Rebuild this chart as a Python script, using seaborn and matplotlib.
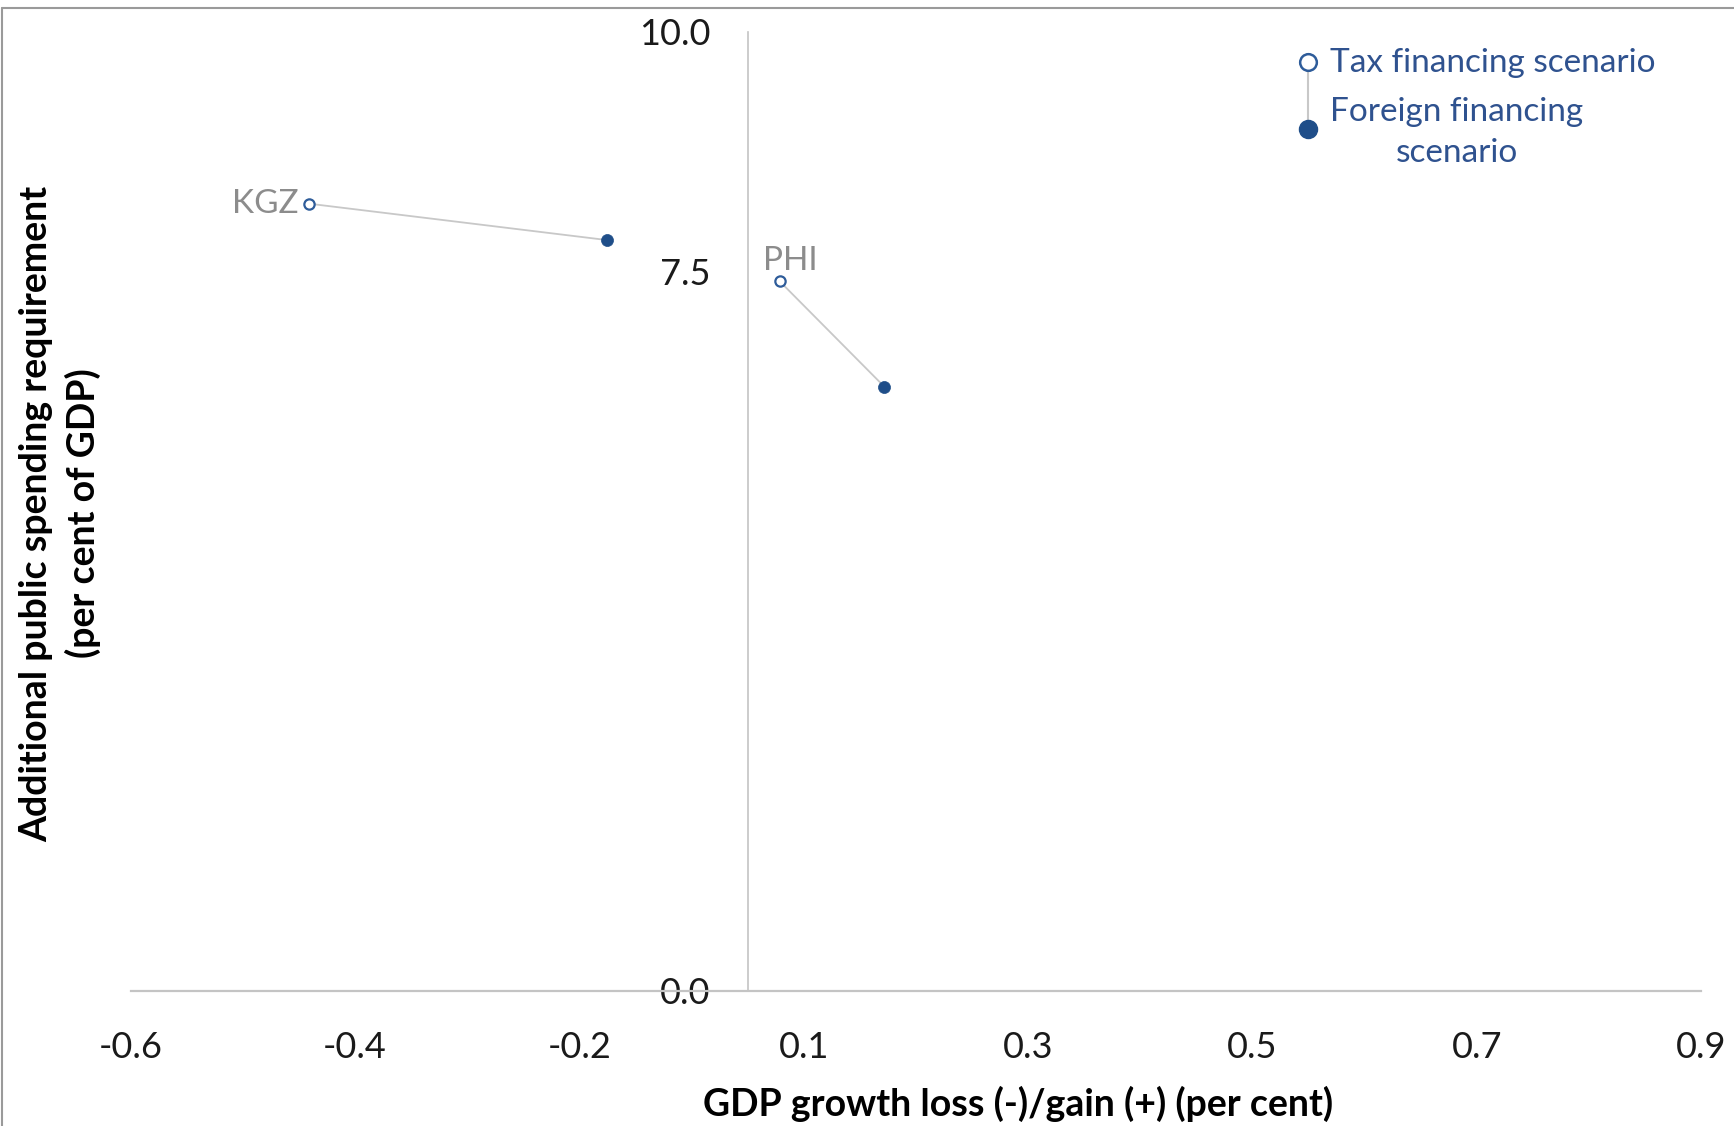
import numpy as np
import pandas as pd
import seaborn as sns
from matplotlib import pyplot as plt
from matplotlib.lines import Line2D

# values
countries = ["KGZ", "PHI"]
tax_growth = [-0.43, 0.02]
tax_spending = [8.21, 7.40]
foreign_growth = [-0.145, 0.12]
foreign_spending = [7.83, 6.30]

x_tick_labels = ["-0.6", "-0.4", "-0.2", "0.1", "0.3", "0.5", "0.7", "0.9"]
y_ticks = [0.0, 7.5, 10.0]
y_tick_labels = ["0.0", "7.5", "10.0"]

BLUE = "#1f4e89"
EDGE = "#2e5c9a"
GREY_LINE = "#c8c8c8"
LABEL_GREY = "#8c8c8c"
TEXT_BLUE = "#2f528f"

# long table: one row per country and scenario
df = pd.DataFrame({
    "country": countries * 2,
    "scenario": ["Tax"] * len(countries) + ["Foreign"] * len(countries),
    "growth": tax_growth + foreign_growth,
    "spending": tax_spending + foreign_spending,
})

sns.set_style("white")
plt.rcParams['font.family'] = ['Lato', 'DejaVu Sans']

fig = plt.figure(figsize=(17.34, 11.26), dpi=100)
ax = fig.add_axes([0.0753, 0.12, 0.9057, 0.8516])

# connecting lines between the two scenarios of each country
sns.lineplot(data=df, x="growth", y="spending", units="country", estimator=None,
             sort=False, color=GREY_LINE, lw=1.3, legend=False, ax=ax, zorder=1)

tax = df[df["scenario"] == "Tax"]
foreign = df[df["scenario"] == "Foreign"]
sns.scatterplot(data=tax, x="growth", y="spending", s=55, marker="o",
                facecolor="white", edgecolor=EDGE, linewidth=1.6, ax=ax, zorder=3)
sns.scatterplot(data=foreign, x="growth", y="spending", s=75, marker="o",
                color=BLUE, edgecolor=BLUE, linewidth=0.5, ax=ax, zorder=3)

# country labels
for c, gx, gy in zip(tax["country"], tax["growth"], tax["spending"]):
    if c == "KGZ":
        ax.annotate(c, (gx, gy), xytext=(-7, 0), textcoords="offset points",
                    ha="right", va="center", fontsize=24, color=LABEL_GREY)
    else:
        ax.annotate(c, (gx, gy), xytext=(-12, 4), textcoords="offset points",
                    ha="left", va="bottom", fontsize=24, color=LABEL_GREY)

ax.set_xlim(-0.6, 0.9)
ax.set_ylim(0, 10)
ax.set_xticks(np.linspace(-0.6, 0.9, len(x_tick_labels)))
ax.set_xticklabels(x_tick_labels)
ax.set_yticks(y_ticks)
ax.set_yticklabels(y_tick_labels)
ax.tick_params(axis="both", length=0, labelsize=26, colors="#1a1a1a")
ax.tick_params(axis="x", pad=29)
ax.tick_params(axis="y", pad=27)
ax.set_xlabel("")
ax.set_ylabel("")

sns.despine(ax=ax, top=True, right=True)
ax.spines["left"].set_position(("data", -0.01))
ax.spines["left"].set_color("#c4c4c4")
ax.spines["left"].set_linewidth(1.2)
ax.spines["bottom"].set_color("#c4c4c4")
ax.spines["bottom"].set_linewidth(1.6)

# axis titles
fig.text(0.587, 0.0195, "GDP growth loss (-)/gain (+) (per cent)", ha="center",
         va="center", fontsize=27, fontweight="bold", color="black")
fig.text(0.0345, 0.544, "Additional public spending requirement\n(per cent of GDP)",
         ha="center", va="center", rotation=90, multialignment="center",
         fontsize=27, fontweight="bold", color="black", linespacing=1.38)

# legend drawn by hand, as in the original
ax.plot([0.7498, 0.7498], [0.9687, 0.899], transform=ax.transAxes,
        color=GREY_LINE, lw=1.5, zorder=2, clip_on=False)
ax.plot([0.7498], [0.9687], transform=ax.transAxes, marker="o", ms=12,
        mfc="white", mec=EDGE, mew=1.8, zorder=3, clip_on=False)
ax.plot([0.7498], [0.899], transform=ax.transAxes, marker="o", ms=13,
        mfc=BLUE, mec=BLUE, zorder=3, clip_on=False)
ax.text(0.7637, 0.968, "Tax financing scenario", transform=ax.transAxes,
        ha="left", va="center", fontsize=24, color=TEXT_BLUE)
ax.text(0.7637, 0.895, "Foreign financing\nscenario", transform=ax.transAxes,
        ha="left", va="center", multialignment="center", fontsize=24,
        color=TEXT_BLUE, linespacing=1.46)

# thin frame around the picture (top and left edges)
fig.add_artist(Line2D([0.0013, 0.0013], [0, 0.993], transform=fig.transFigure,
                      color="#9a9a9a", lw=1.5))
fig.add_artist(Line2D([0.0013, 1], [0.993, 0.993], transform=fig.transFigure,
                      color="#9a9a9a", lw=1.5))

fig.savefig("out.png", dpi=100)
